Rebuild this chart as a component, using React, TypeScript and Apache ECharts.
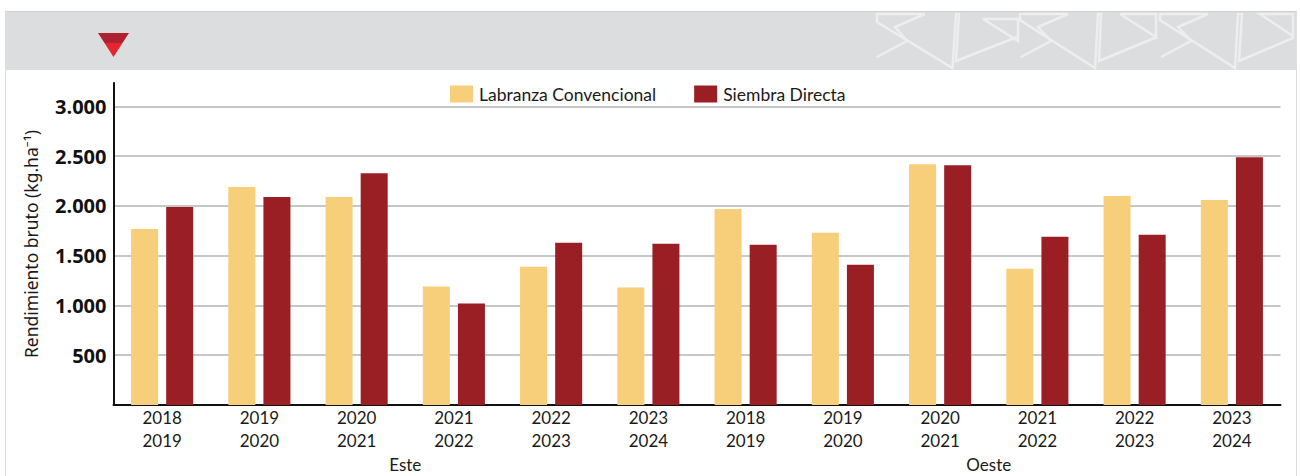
import React, { useEffect, useRef } from "react";
import * as echarts from "echarts";

const seasons = ["2018\n2019", "2019\n2020", "2020\n2021", "2021\n2022", "2022\n2023", "2023\n2024", "2018\n2019", "2019\n2020", "2020\n2021", "2021\n2022", "2022\n2023", "2023\n2024"];
const regions = ["Este", "Oeste"];
const labranza = [1770, 2190, 2090, 1190, 1390, 1180, 1970, 1730, 2420, 1370, 2100, 2060];
const siembra = [1990, 2090, 2330, 1020, 1630, 1620, 1610, 1410, 2410, 1690, 1710, 2490];

const BAND = "#DCDDDE";
const MOTIF = "#EDEEEE";
const EDGE = "#DADADA";

const motif = (points: number[][]) => ({
  type: "polyline",
  silent: true,
  shape: { points },
  style: { stroke: MOTIF, lineWidth: 2.5, fill: "none" },
});

export default function App() {
  const ref = useRef<HTMLDivElement>(null);
  useEffect(() => {
    document.body.style.margin = "0";
    const chart = echarts.init(ref.current!, undefined, { renderer: "svg" });
    chart.setOption({
      animation: false,
      backgroundColor: "#FFFFFF",
      grid: { left: 113.5, right: 19.5, top: 83, bottom: 71, containLabel: false },
      legend: {
        left: 445,
        top: 80,
        itemWidth: 23,
        itemHeight: 17,
        itemGap: 38,
        icon: "rect",
        textStyle: { fontFamily: "Lato", fontSize: 17.5, color: "#1A1A1A", padding: [0, 0, 0, 1] },
      },
      xAxis: [
        {
          type: "category",
          data: seasons,
          axisLine: { lineStyle: { color: "#111111", width: 2 } },
          axisTick: { show: false },
          axisLabel: { interval: 0, margin: 1, fontFamily: "Lato", fontSize: 17, lineHeight: 23, color: "#1A1A1A" },
        },
        {
          type: "category",
          position: "bottom",
          offset: 48,
          data: regions,
          axisLine: { show: false },
          axisTick: { show: false },
          axisLabel: { interval: 0, margin: 3, fontFamily: "Lato", fontSize: 17, color: "#1A1A1A" },
        },
      ],
      yAxis: {
        type: "value",
        min: 0,
        max: 3236,
        interval: 500,
        name: "Rendimiento bruto (kg.ha⁻¹)",
        nameLocation: "middle",
        nameRotate: 90,
        nameGap: 74,
        nameTextStyle: { fontFamily: "Noto Sans", fontSize: 17.5, color: "#1A1A1A" },
        axisLine: { show: true, lineStyle: { color: "#111111", width: 2 } },
        axisTick: { show: false },
        axisLabel: {
          margin: 7,
          showMinLabel: false,
          showMaxLabel: false,
          fontFamily: "Open Sans",
          fontWeight: "bold",
          fontSize: 20,
          color: "#111111",
          formatter: (v: number) => String(v).replace(/(\d)(\d{3})$/, "$1.$2"),
        },
        splitLine: { show: true, showMinLine: false, showMaxLine: false, lineStyle: { color: "#B5B5B5", width: 1.5 } },
      },
      series: [
        { name: "Labranza Convencional", type: "bar", data: labranza, barWidth: 27, barGap: "30%", itemStyle: { color: "#F7CE79" } },
        { name: "Siembra Directa", type: "bar", data: siembra, barWidth: 27, itemStyle: { color: "#9A1F24" } },
      ],
      graphic: [
        { type: "rect", silent: true, z: -1, shape: { x: 5, y: 11, width: 1292, height: 59 }, style: { fill: BAND } },
        { type: "line", silent: true, shape: { x1: 5, y1: 11.5, x2: 1297, y2: 11.5 }, style: { stroke: "#CFCFCF", lineWidth: 1 } },
        { type: "line", silent: true, shape: { x1: 5.5, y1: 70, x2: 5.5, y2: 476 }, style: { stroke: EDGE, lineWidth: 1 } },
        { type: "line", silent: true, shape: { x1: 1296.5, y1: 70, x2: 1296.5, y2: 476 }, style: { stroke: EDGE, lineWidth: 1 } },
        { type: "polygon", silent: true, shape: { points: [[98, 33], [129, 33], [122.5, 43], [104.5, 43]] }, style: { fill: "#AD2131" } },
        { type: "polygon", silent: true, shape: { points: [[104.5, 43], [122.5, 43], [113.5, 57]] }, style: { fill: "#E3262F" } },
        motif([[925, 14], [895, 27], [907, 41], [877, 57]]),
        motif([[925, 14], [877, 14], [877, 22], [952.5, 68], [956, 14], [959, 14], [956, 61], [1017, 37]]),
        motif([[983, 19], [1018, 19], [1018, 41], [983, 19]]),
        motif([[1068, 14], [1038, 27], [1051, 41], [1021, 57]]),
        motif([[1068, 14], [1020, 14], [1020, 20], [1095, 68], [1098, 14], [1101, 14], [1099, 61], [1157, 37]]),
        motif([[1120, 14], [1156, 14], [1156, 37], [1120, 14]]),
        motif([[1208, 14], [1178, 27], [1191, 41], [1161, 57]]),
        motif([[1208, 14], [1160, 14], [1160, 20], [1235, 68], [1238, 14], [1242, 14], [1239, 61], [1293, 38], [1293, 14], [1260, 14], [1293, 36]]),
      ],
    });
    return () => chart.dispose();
  }, []);
  return <div ref={ref} style={{ width: 1300, height: 476 }} />;
}
